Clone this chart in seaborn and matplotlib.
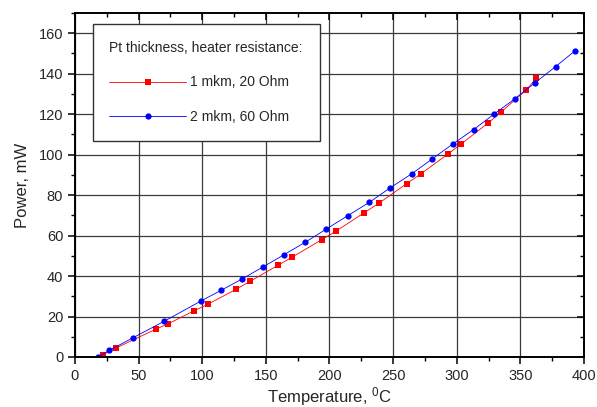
import numpy as np
import pandas as pd
import matplotlib
matplotlib.use("Agg")
import matplotlib.pyplot as plt
import seaborn as sns
from matplotlib.lines import Line2D
from matplotlib.ticker import MultipleLocator

# 1 mkm, 20 Ohm (red squares)
t_red = [22.0, 32.0, 63.7, 73.3, 93.8, 104.8, 126.5, 137.3, 159.5, 170.8,
         193.8, 205.1, 227.4, 238.6, 260.6, 271.6, 293.1, 303.6, 324.8,
         335.0, 354.7, 362.5]
p_red = [1.1, 4.4, 13.8, 16.4, 22.9, 26.2, 33.4, 37.3, 45.3, 49.4,
         57.9, 62.2, 71.3, 75.9, 85.6, 90.4, 100.3, 105.3, 115.7,
         121.1, 132.0, 137.8]

# 2 mkm, 60 Ohm (blue circles)
t_blue = [18.3, 27.0, 45.6, 70.0, 98.8, 114.7, 131.2, 147.5, 164.2, 180.7,
          197.5, 214.3, 231.3, 247.5, 264.6, 280.6, 296.8, 313.3, 329.5,
          345.5, 361.7, 377.7, 393.2]
p_blue = [0.15, 3.3, 9.5, 17.6, 27.6, 32.9, 38.5, 44.4, 50.5, 56.6,
          63.2, 69.8, 76.4, 83.5, 90.5, 97.8, 105.2, 112.4, 120.1,
          127.5, 135.6, 143.5, 151.4]

legend_title = "Pt thickness, heater resistance:"
labels = ["1 mkm, 20 Ohm", "2 mkm, 60 Ohm"]

sns.set_style("white")
plt.rcParams['font.family'] = ['Liberation Sans', 'DejaVu Sans']
plt.rcParams['mathtext.fontset'] = 'custom'
plt.rcParams['mathtext.rm'] = 'Liberation Sans'
plt.rcParams['mathtext.it'] = 'Liberation Sans'

df_red = pd.DataFrame({'T': t_red, 'P': p_red})
df_blue = pd.DataFrame({'T': t_blue, 'P': p_blue})

fig = plt.figure(figsize=(5.97, 4.07), dpi=100)
ax = fig.add_axes([0.1256, 0.1229, 0.8526, 0.8453])

sns.lineplot(data=df_red, x='T', y='P', ax=ax, color='#ff0000', lw=0.6,
             marker='s', markersize=4.5, markeredgewidth=0, sort=False)
sns.lineplot(data=df_blue, x='T', y='P', ax=ax, color='#0000ff', lw=0.6,
             marker='o', markersize=4.5, markeredgewidth=0, sort=False)

ax.set_xlim(0, 400)
ax.set_ylim(0, 170)
ax.xaxis.set_major_locator(MultipleLocator(50))
ax.xaxis.set_minor_locator(MultipleLocator(25))
ax.yaxis.set_major_locator(MultipleLocator(20))
ax.yaxis.set_minor_locator(MultipleLocator(10))
ax.set_yticks([0, 20, 40, 60, 80, 100, 120, 140, 160])

ax.grid(True, which='major', color='#3a3a3a', lw=0.9)
ax.set_axisbelow(True)
for s in ax.spines.values():
    s.set_color('black')
    s.set_linewidth(1.4)

ax.tick_params(axis='both', which='both', labelsize=10.5, color='black')
ax.tick_params(which='major', length=5, width=1.1)
ax.tick_params(which='minor', length=3, width=1.0)
ax.tick_params(axis='x', which='both', bottom=True, top=True, direction='out')
ax.tick_params(axis='y', which='both', left=True, right=True, direction='out')
# top and right ticks point inward
for t in ax.xaxis.get_major_ticks() + ax.xaxis.get_minor_ticks():
    t.tick2line.set_marker(3)
for t in ax.yaxis.get_major_ticks() + ax.yaxis.get_minor_ticks():
    t.tick2line.set_marker(0)

ax.set_xlabel("Temperature, $^{0}$C", fontsize=12, labelpad=1.5)
ax.set_ylabel("Power, mW", fontsize=12, labelpad=6)

handles = [
    Line2D([], [], color='#ff0000', lw=0.6, marker='s', markersize=4.5, markeredgewidth=0),
    Line2D([], [], color='#0000ff', lw=0.6, marker='o', markersize=4.5, markeredgewidth=0),
]
leg = ax.legend(handles, labels, title=legend_title, loc='upper left',
                bbox_to_anchor=(0.035, 0.968), borderaxespad=0,
                fontsize=10, title_fontsize=10,
                frameon=True, fancybox=False, edgecolor='#333333',
                handlelength=5.5, handletextpad=0.3, labelspacing=1.5,
                borderpad=1.2, alignment='left', framealpha=1)
leg.get_frame().set_linewidth(1.0)
leg._legend_box.sep = 15

fig.savefig('out.png', dpi=100)
